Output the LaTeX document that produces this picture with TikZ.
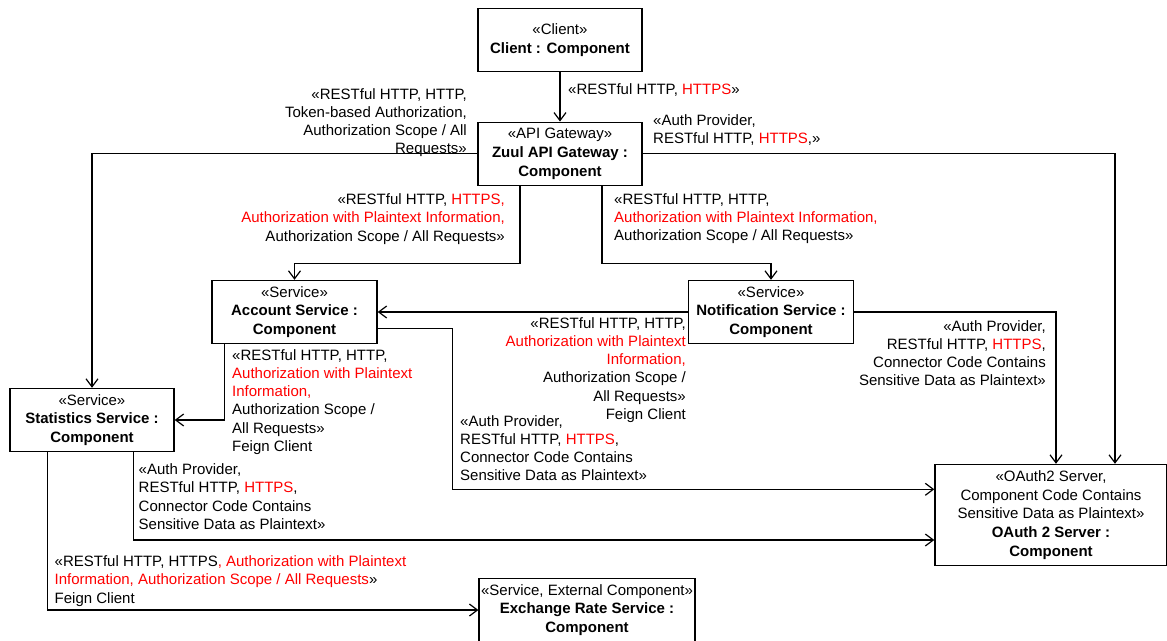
\documentclass[tikz,border=0pt]{standalone}
\usepackage{fontspec}
\setmainfont{Liberation Sans}
\usepackage{tikz}
\usetikzlibrary{arrows.meta,positioning}
\newcommand{\rd}[1]{\textcolor{red}{#1}}
\tikzset{comp/.style={draw,line width=1.4pt,align=center,inner sep=2pt,minimum width=164pt,minimum height=63pt},
lblL/.style={anchor=north west,align=left,inner sep=0pt},
lblR/.style={anchor=north east,align=right,inner sep=0pt},
conn/.style={line width=1.2pt,-{Straight Barb[length=8pt,width=12pt]}}}

\begin{document}
\begin{tikzpicture}[x=1pt,y=-1pt,font=\fontsize{15}{18.6}\selectfont]
\useasboundingbox (0,0) rectangle (1167,640);
\node[comp] (client) at (560,40) {«Client»\\\textbf{Client : Component}};
\node[comp] (gw) at (560,153.75) {«API Gateway»\\\textbf{Zuul API Gateway :}\\\textbf{Component}};
\node[comp,minimum width=165pt] (acc) at (294.5,312) {«Service»\\\textbf{Account Service :}\\\textbf{Component}};
\node[comp,minimum width=165pt] (notif) at (771,312) {«Service»\\\textbf{Notification Service :}\\\textbf{Component}};
\node[comp] (stat) at (92,420) {«Service»\\\textbf{Statistics Service :}\\\textbf{Component}};
\node[comp,minimum width=232pt,minimum height=101pt] (oauth) at (1051,515) {«OAuth2 Server,\\Component Code Contains\\Sensitive Data as Plaintext»\\\textbf{OAuth 2 Server :}\\\textbf{Component}};
\node[comp,minimum width=215pt] (exch) at (587,610) {«Service, External Component»\\\textbf{Exchange Rate Service :}\\\textbf{Component}};

% connector labels
\begin{scope}[font=\fontsize{15}{18.3}\selectfont]
\node[lblL] (l1) at (568,83.5) {«RESTful HTTP, \rd{HTTPS}»};
\node[lblR] (l2) at (467,88) {«RESTful HTTP, HTTP,\\Token-based Authorization,\\Authorization Scope / All\\Requests»};
\node[lblL] (l3) at (653,114) {«Auth Provider,\\RESTful HTTP, \rd{HTTPS},»};
\node[lblR] (l4) at (505,193.5) {«RESTful HTTP, \rd{HTTPS,}\\\rd{Authorization with Plaintext Information,}\\Authorization Scope / All Requests»};
\node[lblL] (l5) at (614,193) {«RESTful HTTP, HTTP,\\\rd{Authorization with Plaintext Information,}\\Authorization Scope / All Requests»};
\node[lblR] (l6) at (686,317) {«RESTful HTTP, HTTP,\\\rd{Authorization with Plaintext}\\\rd{Information,}\\Authorization Scope /\\All Requests»\\Feign Client};
\node[lblR] (l7) at (1046,320) {«Auth Provider,\\RESTful HTTP, \rd{HTTPS},\\Connector Code Contains\\Sensitive Data as Plaintext»};
\node[lblL] (l8) at (460,415) {«Auth Provider,\\RESTful HTTP, \rd{HTTPS},\\Connector Code Contains\\Sensitive Data as Plaintext»};
\node[lblL] (l9) at (232,349) {«RESTful HTTP, HTTP,\\\rd{Authorization with Plaintext}\\\rd{Information,}\\Authorization Scope /\\All Requests»\\Feign Client};
\node[lblL] (l10) at (138.5,463.5) {«Auth Provider,\\RESTful HTTP, \rd{HTTPS},\\Connector Code Contains\\Sensitive Data as Plaintext»};
\node[lblL] (l11) at (54.5,555.5) {«RESTful HTTP, HTTPS\rd{, Authorization with Plaintext}\\\rd{Information, Authorization Scope / All Requests}»\\Feign Client};
\end{scope}

\draw[conn] (client) -- (gw);
\draw[conn] (gw.west) -| (stat.north);
\draw[conn] (gw.east) -| ([xshift=64pt]oauth.north);
\draw[conn] ([xshift=-40pt]gw.south) -- ++(0,77.5) -| (acc.north);
\draw[conn] ([xshift=42pt]gw.south) -- ++(0,77.5) -| (notif.north);
\draw[conn] (notif.west) -- (notif.west -| acc.east);
\draw[conn] (notif.east) -| ([xshift=5pt]oauth.north);
\draw[conn] ([yshift=-16.5pt]acc.east) -- ++(75,0) |- ([yshift=25.7pt]oauth.west);
\draw[conn] ([xshift=-70pt]acc.south) |- (stat.east);
\draw[conn] ([xshift=41.5pt]stat.south) |- ([yshift=-25pt]oauth.west);
\draw[conn] ([xshift=-44.5pt]stat.south) |- (exch.west);
\end{tikzpicture}
\end{document}
